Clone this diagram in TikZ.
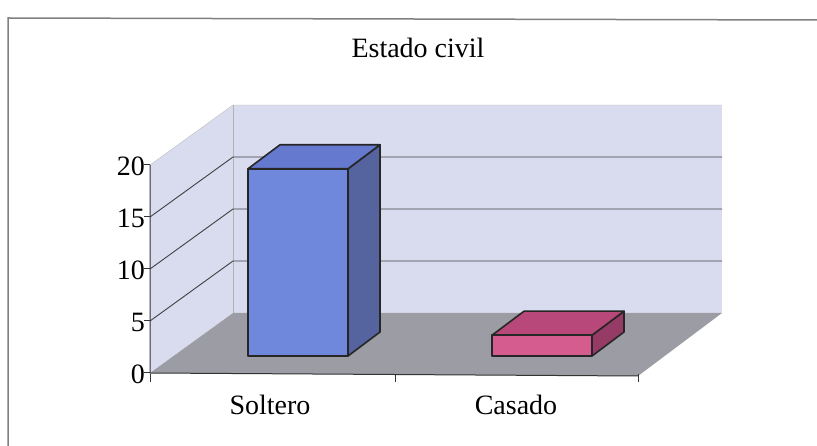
\documentclass[tikz,border=0pt]{standalone}
\usepackage{fontspec}
\setmainfont{Liberation Serif}
\definecolor{wallcol}{HTML}{D9DCEF}
\definecolor{floorcol}{HTML}{9C9DA4}
\definecolor{solfront}{HTML}{7088DB}
\definecolor{soltop}{HTML}{6579CF}
\definecolor{solside}{HTML}{55649F}
\definecolor{casfront}{HTML}{D45C8E}
\definecolor{castop}{HTML}{B8487A}
\definecolor{casside}{HTML}{963A66}
\begin{document}
\begin{tikzpicture}[x=1pt,y=-1pt,
  lbl/.style={font=\fontsize{28}{30}\selectfont,inner sep=0pt},
  gridline/.style={draw=black!75,line width=0.9pt},
  barline/.style={draw=black!85,line width=1.6pt,line join=round}]
\useasboundingbox (0,0) rectangle (817,446);
% Frame
\draw[black!50,line width=1.5pt] (8,446) -- (8,18) -- (817,20);
\node[lbl] (title) at (418,48) {Estado civil};

% Walls and floor
\fill[wallcol] (150,165) -- (233,105) -- (233,313) -- (150,373) -- cycle;
\fill[wallcol] (233,105) rectangle (722,313);
\draw[black!25] (150,165) -- (233,105) -- (722,105);
\draw[black!30] (233,105) -- (233,313);
\fill[floorcol] (150,373) -- (233,313) -- (722,313) -- (638,376) -- cycle;
\foreach \v in {5,10,15}
  \draw[gridline] (150,{373-10.4*\v}) -- ++(83,-60) -- ++(489,0);

% Axes
\draw[black!80,line width=1pt] (150,165) -- (150,373) -- (638,376);
\foreach \v in {0,5,10,15,20} {
  \draw[black!80,line width=1pt] (144,{373-10.4*\v}) -- (150,{373-10.4*\v});
  \node[lbl,anchor=east] (tick\v) at (145,{374-10.4*\v}) {\v};
}
\foreach \x in {150,395,638}
  \draw[black!80,line width=1pt] (\x,374) -- (\x,382);

% Bars
\foreach \xl/\v/\fc/\tc/\sc in {248/18/solfront/soltop/solside,492/2/casfront/castop/casside} {
  \pgfmathsetmacro\ytop{356-10.4*\v}
  \filldraw[barline,fill=\sc] (\xl+100,356) -- (\xl+100,\ytop) -- ++(32,-24) -- ++(0,{10.4*\v}) -- cycle;
  \filldraw[barline,fill=\tc] (\xl,\ytop) -- ++(32,-24) -- ++(100,0) -- ++(-32,24) -- cycle;
  \filldraw[barline,fill=\fc] (\xl,356) rectangle (\xl+100,\ytop);
}

% Category labels
\node[lbl] (soltero) at (270,405) {Soltero};
\node[lbl] (casado) at (516,405) {Casado};
\end{tikzpicture}
\end{document}
